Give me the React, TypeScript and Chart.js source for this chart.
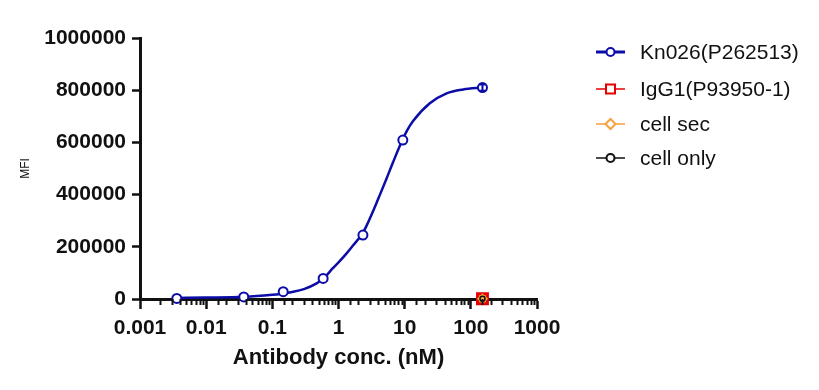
import React, { useEffect, useRef } from 'react';
import { Chart, registerables } from 'chart.js';
Chart.register(...registerables);

// Measured points (antibody concentration in nM)
const concentrations = [0.0036, 0.037, 0.146, 0.586, 2.34, 9.38, 150];
const kn026Values = [2000, 8000, 28000, 79000, 245000, 609000, 810000];
const kn026Errors = [0, 0, 0, 0, 0, 0, 12000];

// Controls, only measured at the top concentration
const controlConc = [150];
const igg1Values = [1200];
const cellSecValues = [1000];
const cellOnlyValues = [800];

// Fitted curve
const fitX = [0.0036, 0.01, 0.037, 0.1, 0.13, 0.2, 0.3, 0.467, 0.6, 0.822, 1.05, 1.325, 1.667, 2.28, 2.66, 3.34, 4.22, 5.33, 6.7, 9.17, 11, 13.4, 24, 43, 76.6, 150];
const fitY = [4000, 5500, 8800, 16500, 19500, 27000, 38000, 60000, 80000, 118000, 146000, 175000, 206000, 249000, 281000, 337000, 399000, 462000, 525000, 607000, 648000, 682000, 750000, 788000, 803000, 810000];

const xTickLabels = ['0.001', '0.01', '0.1', '1', '10', '100', '1000'];
const yMax = 1000000;
const yStep = 200000;

const BLUE = '#0c0ca8';
const RED = '#e60000';
const ORANGE = '#f5a03c';
const BLACK = '#111111';
const FONT = '"Liberation Sans", Arial, sans-serif';

const legendItems = [
  { label: 'Kn026(P262513)', color: BLUE, style: 'circle', lineWidth: 3 },
  { label: 'IgG1(P93950-1)', color: RED, style: 'rect', lineWidth: 1.5 },
  { label: 'cell sec', color: ORANGE, style: 'diamond', lineWidth: 1.5 },
  { label: 'cell only', color: BLACK, style: 'circle', lineWidth: 1.5 },
];

function isDecade(v: number) {
  const l = Math.log10(v);
  return Math.abs(l - Math.round(l)) < 1e-6;
}

function drawMarker(ctx: CanvasRenderingContext2D, style: string, x: number, y: number, color: string) {
  ctx.save();
  ctx.strokeStyle = color;
  ctx.fillStyle = '#ffffff';
  ctx.lineWidth = 2;
  ctx.beginPath();
  if (style === 'circle') {
    ctx.arc(x, y, 4, 0, Math.PI * 2);
  } else if (style === 'rect') {
    ctx.rect(x - 4.5, y - 4.5, 9, 9);
  } else {
    ctx.moveTo(x, y - 5);
    ctx.lineTo(x + 5, y);
    ctx.lineTo(x, y + 5);
    ctx.lineTo(x - 5, y);
    ctx.closePath();
  }
  ctx.fill();
  ctx.stroke();
  ctx.restore();
}

const minorTicksPlugin = {
  id: 'minorTicks',
  afterDraw(chart: any) {
    const xs = chart.scales.x;
    const ctx = chart.ctx;
    ctx.save();
    ctx.strokeStyle = BLACK;
    ctx.lineWidth = 2;
    for (const t of xs.ticks) {
      if (isDecade(t.value)) continue;
      const px = Math.round(xs.getPixelForValue(t.value)) + 0.5;
      ctx.beginPath();
      ctx.moveTo(px, xs.top);
      ctx.lineTo(px, xs.top + 6);
      ctx.stroke();
    }
    ctx.restore();
  },
};

const errorBarPlugin = {
  id: 'errorBars',
  afterDatasetsDraw(chart: any) {
    const xs = chart.scales.x;
    const ys = chart.scales.y;
    const ctx = chart.ctx;
    ctx.save();
    ctx.strokeStyle = BLUE;
    ctx.lineWidth = 2;
    concentrations.forEach((c, i) => {
      const e = kn026Errors[i];
      if (!e) return;
      const px = xs.getPixelForValue(c);
      const top = ys.getPixelForValue(kn026Values[i] + e);
      const bot = ys.getPixelForValue(kn026Values[i] - e);
      ctx.beginPath();
      ctx.moveTo(px, top);
      ctx.lineTo(px, bot);
      ctx.moveTo(px - 3, top);
      ctx.lineTo(px + 3, top);
      ctx.moveTo(px - 3, bot);
      ctx.lineTo(px + 3, bot);
      ctx.stroke();
    });
    ctx.restore();
  },
};

const legendPlugin = {
  id: 'customLegend',
  afterDraw(chart: any) {
    const ctx = chart.ctx;
    const x0 = 596;
    const x1 = 625;
    const rows = [52, 89, 124, 158];
    ctx.save();
    legendItems.forEach((it, i) => {
      const y = rows[i];
      ctx.strokeStyle = it.color;
      ctx.lineWidth = it.lineWidth;
      ctx.beginPath();
      ctx.moveTo(x0, y);
      ctx.lineTo(x1, y);
      ctx.stroke();
      drawMarker(ctx, it.style, (x0 + x1) / 2, y, it.color);
      ctx.fillStyle = '#111111';
      ctx.font = `21px ${FONT}`;
      ctx.textBaseline = 'middle';
      ctx.textAlign = 'left';
      ctx.fillText(it.label, 640, y + 1);
    });
    ctx.restore();
  },
};

export default function App() {
  const ref = useRef<HTMLCanvasElement | null>(null);
  useEffect(() => {
    if (!ref.current) return;
    const toPts = (xs: number[], ys: number[]) => xs.map((x, i) => ({ x, y: ys[i] }));
    const chart = new Chart(ref.current, {
      type: 'scatter',
      data: {
        datasets: [
          {
            label: 'cell only',
            data: toPts(controlConc, cellOnlyValues),
            pointStyle: 'circle',
            pointRadius: 2.5,
            borderColor: BLACK,
            backgroundColor: 'rgba(0,0,0,0)',
            borderWidth: 1.5,
            clip: false,
          } as any,
          {
            label: 'cell sec',
            data: toPts(controlConc, cellSecValues),
            pointStyle: 'rectRot',
            pointRadius: 4.5,
            borderColor: ORANGE,
            backgroundColor: '#f8b54a',
            borderWidth: 1.5,
            clip: false,
          } as any,
          {
            label: 'IgG1(P93950-1)',
            data: toPts(controlConc, igg1Values),
            pointStyle: 'rect',
            pointRadius: 7,
            borderColor: RED,
            backgroundColor: '#f7a640',
            borderWidth: 3,
            clip: false,
          } as any,
          {
            label: 'Kn026(P262513)',
            data: toPts(concentrations, kn026Values),
            pointStyle: 'circle',
            pointRadius: 4.5,
            borderColor: BLUE,
            backgroundColor: '#ffffff',
            borderWidth: 2,
            clip: false,
          } as any,
          {
            label: 'fit',
            data: toPts(fitX, fitY),
            showLine: true,
            pointRadius: 0,
            borderColor: BLUE,
            borderWidth: 2.5,
            cubicInterpolationMode: 'monotone',
            clip: false,
          } as any,
        ],
      },
      options: {
        animation: false,
        responsive: false,
        events: [],
        layout: { padding: { left: 0, right: 282, top: 38, bottom: 0 } },
        plugins: { legend: { display: false }, tooltip: { enabled: false } },
        scales: {
          x: {
            type: 'logarithmic',
            min: 0.001,
            max: 1000,
            afterFit: (s: any) => { s.height = 91; },
            border: { display: true, color: BLACK, width: 3 },
            grid: {
              display: true,
              drawOnChartArea: false,
              drawTicks: true,
              tickLength: 10,
              tickWidth: 2.5,
              tickColor: (c: any) => (c.tick && isDecade(c.tick.value) ? BLACK : 'rgba(0,0,0,0)'),
            },
            ticks: {
              autoSkip: false,
              maxRotation: 0,
              padding: 7,
              color: BLACK,
              font: { family: FONT, size: 21, weight: 'bold' },
              callback: (v: any) => {
                const n = Number(v);
                if (!isDecade(n)) return '';
                return xTickLabels[Math.round(Math.log10(n)) + 3];
              },
            },
            title: {
              display: true,
              text: 'Antibody conc. (nM)',
              color: BLACK,
              font: { family: FONT, size: 22, weight: 'bold' },
              padding: { top: 0, bottom: 19 },
            },
          },
          y: {
            type: 'linear',
            min: 0,
            max: yMax,
            afterFit: (s: any) => { s.width = 140; },
            border: { display: true, color: BLACK, width: 3 },
            grid: {
              display: true,
              drawOnChartArea: false,
              drawTicks: true,
              tickLength: 8,
              tickWidth: 2.5,
              tickColor: BLACK,
            },
            ticks: {
              stepSize: yStep,
              padding: 6,
              color: BLACK,
              font: { family: FONT, size: 21, weight: 'bold' },
              callback: (v: any) => String(v),
            },
            title: {
              display: true,
              text: 'MFI',
              color: BLACK,
              font: { family: FONT, size: 12 },
              padding: { top: 18, bottom: 0 },
            },
          },
        },
      },
      plugins: [minorTicksPlugin, errorBarPlugin, legendPlugin],
    });
    return () => chart.destroy();
  }, []);

  return (
    <div style={{ position: 'absolute', left: 0, top: 0, width: 819, height: 390, background: '#ffffff' }}>
      <canvas ref={ref} width={819} height={390} />
    </div>
  );
}
